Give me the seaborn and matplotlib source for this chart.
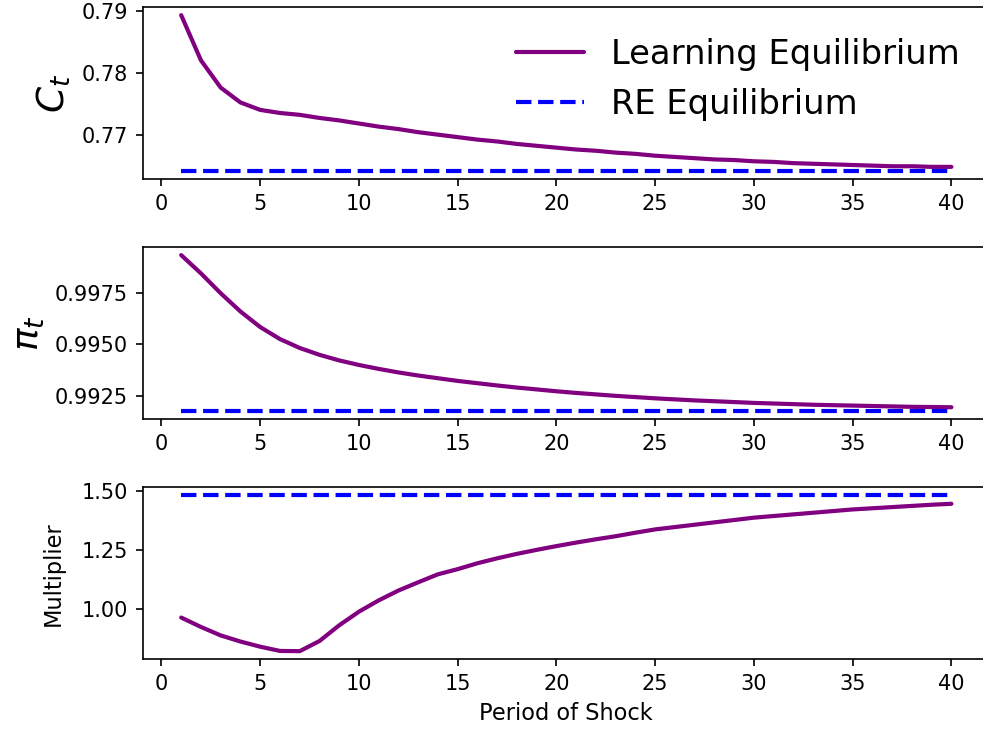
import numpy as np
import pandas as pd
import matplotlib
matplotlib.use("Agg")
import matplotlib.pyplot as plt
from matplotlib.ticker import FormatStrFormatter
import seaborn as sns

# Impulse responses by period of shock (1..40)
periods = list(range(1, 41))

consumption_learning = [
    0.7894, 0.7821, 0.7777, 0.7753, 0.7741, 0.7736, 0.7733, 0.7728, 0.7724, 0.7719,
    0.7714, 0.7710, 0.7705, 0.7701, 0.7697, 0.7693, 0.7690, 0.7686, 0.7683, 0.7680,
    0.7677, 0.7675, 0.7672, 0.7670, 0.7667, 0.7665, 0.7663, 0.7661, 0.7660, 0.7658,
    0.7657, 0.7655, 0.7654, 0.7653, 0.7652, 0.7651, 0.7650, 0.7650, 0.7649, 0.7649,
]
consumption_re = 0.7642

inflation_learning = [
    0.99931, 0.99843, 0.99747, 0.99659, 0.99584, 0.99526, 0.99483, 0.99450, 0.99423, 0.99401,
    0.99382, 0.99365, 0.99350, 0.99337, 0.99324, 0.99313, 0.99302, 0.99292, 0.99283, 0.99274,
    0.99266, 0.99259, 0.99252, 0.99246, 0.99240, 0.99235, 0.99230, 0.99226, 0.99222, 0.99218,
    0.99215, 0.99212, 0.99209, 0.99207, 0.99205, 0.99203, 0.99201, 0.99199, 0.99198, 0.99197,
]
inflation_re = 0.99178

multiplier_learning = [
    0.962, 0.922, 0.886, 0.860, 0.838, 0.820, 0.819, 0.862, 0.929, 0.987,
    1.035, 1.077, 1.112, 1.146, 1.168, 1.193, 1.214, 1.233, 1.250, 1.266,
    1.281, 1.295, 1.308, 1.323, 1.337, 1.347, 1.357, 1.367, 1.377, 1.387,
    1.394, 1.401, 1.408, 1.415, 1.422, 1.427, 1.432, 1.437, 1.442, 1.446,
]
multiplier_re = 1.483

sns.set_style("ticks", rc={
    "axes.edgecolor": "black",
    "axes.labelcolor": "black",
    "text.color": "black",
    "xtick.color": "black",
    "ytick.color": "black",
})
plt.rcParams["font.family"] = ["DejaVu Sans"]
plt.rcParams["mathtext.fontset"] = "dejavusans"

LEARN_COLOR = "purple"
RE_COLOR = "blue"

DPI = 150
fig = plt.figure(figsize=(984 / DPI, 733 / DPI), dpi=DPI)
left, width, height = 0.145, 0.861, 0.2342
bottoms = [0.7558, 0.4284, 0.1010]

panels = [
    (consumption_learning, consumption_re, r"$C_t$", 18, 4),
    (inflation_learning, inflation_re, r"$\pi_t$", 18, 4),
    (multiplier_learning, multiplier_re, "Multiplier", 10.8, 8),
]

axes = []
for (learn, re_val, ylab, ysize, ypad), b in zip(panels, bottoms):
    ax = fig.add_axes([left, b, width, height])
    df = pd.DataFrame({
        "period": periods,
        "Learning Equilibrium": learn,
        "RE Equilibrium": [re_val] * len(periods),
    })
    sns.lineplot(data=df, x="period", y="Learning Equilibrium", ax=ax,
                 color=LEARN_COLOR, linewidth=2, label="Learning Equilibrium")
    sns.lineplot(data=df, x="period", y="RE Equilibrium", ax=ax,
                 color=RE_COLOR, linewidth=2, linestyle="--",
                 label="RE Equilibrium")
    ax.set_ylabel(ylab, fontsize=ysize, labelpad=ypad)
    ax.set_xlabel("")
    ax.set_xticks(range(0, 41, 5))
    ax.tick_params(labelsize=10, width=0.8, length=3.5, pad=3.5)
    for s in ax.spines.values():
        s.set_linewidth(0.8)
    if ax.get_legend() is not None:
        ax.get_legend().remove()
    axes.append(ax)

axes[0].set_yticks([0.77, 0.78, 0.79])
axes[1].set_yticks([0.9925, 0.9950, 0.9975])
axes[1].yaxis.set_major_formatter(FormatStrFormatter("%.4f"))
axes[2].set_yticks([1.00, 1.25, 1.50])
axes[2].yaxis.set_major_formatter(FormatStrFormatter("%.2f"))

axes[0].legend(loc="upper right", fontsize=16.2, frameon=False)
axes[2].set_xlabel("Period of Shock", fontsize=10.8)

fig.savefig("out.png", dpi=DPI)
